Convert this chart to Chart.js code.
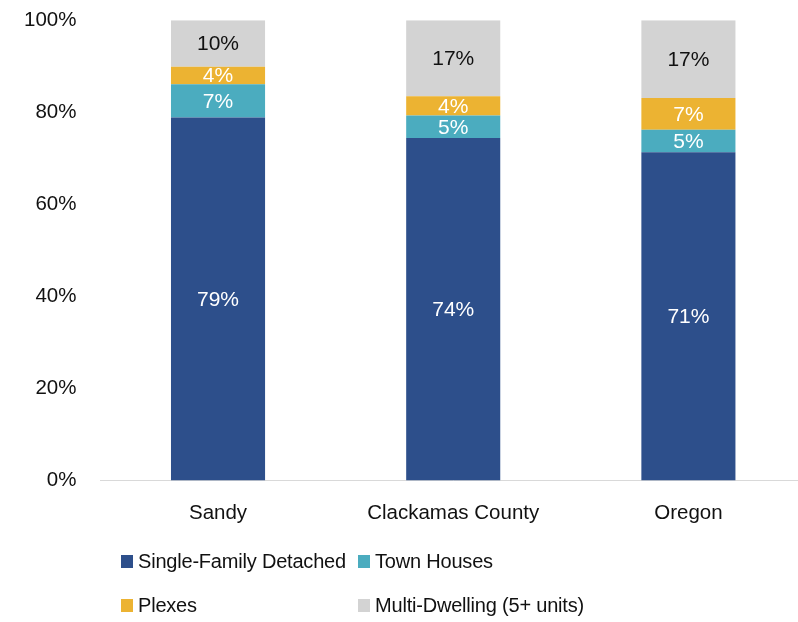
<!DOCTYPE html>
<html>
<head>
<meta charset="utf-8">
<script src="https://cdn.jsdelivr.net/npm/chart.js@4"></script>
<style>
  html, body { margin: 0; padding: 0; background: #fff; overflow: hidden; }
  body { width: 798px; height: 622px; position: relative; font-family: "Liberation Sans", Arial, sans-serif; }
  #housingChart { position: absolute; left: 0; top: -16px; }
  .legend { position: absolute; left: 0; top: 0; width: 798px; height: 622px; pointer-events: none; }
  .legend-item { position: absolute; font-size: 20px; letter-spacing: -0.2px; color: #111; display: flex; align-items: center; white-space: nowrap; }
  .legend-item span.box { display: inline-block; width: 12px; height: 13px; margin-right: 5px; }
</style>
</head>
<body>
<canvas id="housingChart" width="806" height="563"></canvas>
<div class="legend" id="legend"></div>
<script>
// dados (percentual de moradias por tipo)
const places = ['Sandy', 'Clackamas County', 'Oregon'];
const singleFamily = [78.9, 74.4, 71.3];
const townHouses = [7.2, 4.9, 4.9];
const plexes = [3.8, 4.2, 6.9];
const multiDwelling = [10.1, 16.5, 16.9];
const yTicks = [0, 20, 40, 60, 80, 100];

const seriesNames = ['Single-Family Detached', 'Town Houses', 'Plexes', 'Multi-Dwelling (5+ units)'];
const seriesColors = ['#2D4F8B', '#4BACBF', '#ECB332', '#D3D3D3'];
const labelColors = ['#fff', '#fff', '#fff', '#111'];

const fontFamily = '"Liberation Sans", Arial, sans-serif';

// desenha os números dentro de cada pedaço da barra
const barLabels = {
  id: 'barLabels',
  afterDatasetsDraw(chart) {
    const ctx = chart.ctx;
    ctx.save();
    ctx.font = '21px ' + fontFamily;
    ctx.textAlign = 'center';
    ctx.textBaseline = 'middle';
    chart.data.datasets.forEach((ds, i) => {
      const meta = chart.getDatasetMeta(i);
      meta.data.forEach((bar, j) => {
        const midY = (bar.y + bar.base) / 2;
        ctx.fillStyle = labelColors[i];
        ctx.fillText(Math.round(ds.data[j]) + '%', bar.x, midY + 1);
      });
    });
    ctx.restore();
  }
};

const allSeries = [singleFamily, townHouses, plexes, multiDwelling];

new Chart(document.getElementById('housingChart'), {
  type: 'bar',
  data: {
    labels: places,
    datasets: allSeries.map((values, i) => ({
      label: seriesNames[i],
      data: values,
      backgroundColor: seriesColors[i],
      borderWidth: 0,
      categoryPercentage: 1,
      barPercentage: 0.4
    }))
  },
  options: {
    responsive: false,
    animation: false,
    layout: { padding: { top: 8, left: 0, right: 0, bottom: 0 } },
    plugins: {
      legend: { display: false },
      tooltip: { enabled: false }
    },
    scales: {
      x: {
        stacked: true,
        grid: { display: false, drawTicks: false },
        border: { display: true, color: '#D9D9D9', width: 1 },
        ticks: { color: '#111', font: { family: fontFamily, size: 20.5 }, padding: 21 }
      },
      y: {
        stacked: true,
        min: 0,
        max: 100,
        afterBuildTicks: axis => { axis.ticks = yTicks.map(v => ({ value: v })); },
        grid: { display: false, drawTicks: false },
        border: { display: false },
        ticks: {
          color: '#111',
          font: { family: fontFamily, size: 20.5 },
          padding: 24,
          callback: v => v + '%'
        }
      }
    }
  },
  plugins: [barLabels]
});

// legenda em duas colunas, feita em HTML
const legendPos = [[121, 561], [358, 561], [121, 605], [358, 605]];
document.getElementById('legend').innerHTML = seriesNames.map((name, i) => `
  <div class="legend-item" style="left:${legendPos[i][0]}px;top:${legendPos[i][1] - 13}px;height:26px">
    <span class="box" style="background:${seriesColors[i]}"></span>${name}
  </div>`).join('');
</script>
</body>
</html>
